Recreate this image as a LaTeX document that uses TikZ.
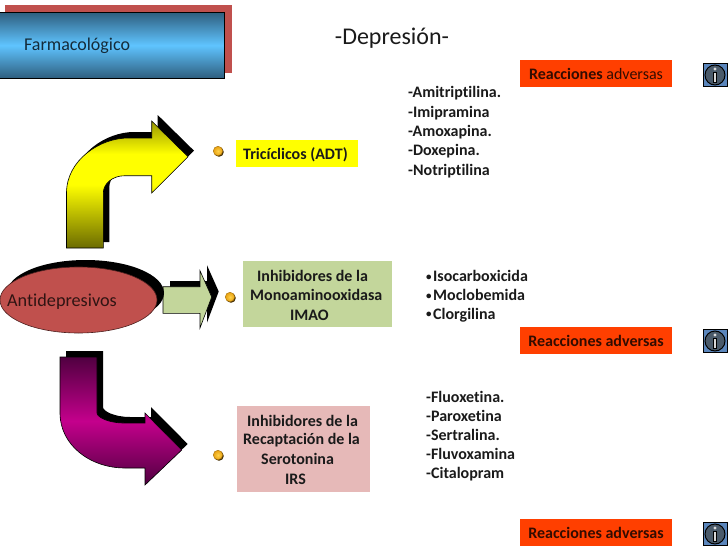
\documentclass[tikz,border=0pt]{standalone}
\usepackage{fontspec}
\setmainfont[Ligatures=NoCommon]{Carlito}
\usetikzlibrary{shapes.geometric}
\definecolor{redshadow}{HTML}{C0504D}
\definecolor{skyb}{HTML}{5FC4FF}
\definecolor{skyd}{HTML}{2F5F7F}
\definecolor{yel}{HTML}{FFFF00}
\definecolor{yeld}{HTML}{6B6B00}
\definecolor{mag}{HTML}{C4008C}
\definecolor{magd}{HTML}{500040}
\definecolor{grn}{HTML}{C3D69B}
\definecolor{pinkb}{HTML}{E6B9B8}
\definecolor{orng}{HTML}{FF3F00}
\definecolor{txt}{HTML}{1A1A1A}
\definecolor{infob}{HTML}{5B86BC}
\definecolor{infoc}{HTML}{4A5A6A}
\definecolor{balli}{HTML}{FFD24A}
\definecolor{ballo}{HTML}{E8A010}
\pgfdeclareverticalshading{yshade}{100bp}{color(0bp)=(yeld); color(25bp)=(yeld); color(50bp)=(yel); color(62bp)=(yel); color(75bp)=(yeld!70!yel); color(100bp)=(yeld!70!yel)}
\newcommand{\bul}{\raisebox{1.5pt}{\fontsize{11}{11}\selectfont•}\hspace{1.5pt}}
\tikzset{
  lab/.style={anchor=west,yshift=-1pt,font=\fontsize{16}{19.5}\selectfont\bfseries,text=txt,inner sep=0pt},
  red tag/.style={fill=orng,minimum width=152pt,minimum height=27pt,inner sep=0pt,text=black!80!orng,font=\fontsize{16}{18}\selectfont},
  dot/.style={circle,minimum size=9.5pt,inner sep=0pt,inner color=balli,outer color=ballo,draw=ballo!70!black,line width=.4pt},
  info/.style={draw=black,fill=infob,line width=.7pt,minimum width=24pt,minimum height=23pt,inner sep=0pt,
    path picture={\draw[line width=1pt,fill=infoc] (path picture bounding box.center) circle (10pt);
    \draw[black,line width=3.4pt] ([yshift=-7.5pt]path picture bounding box.center) -- ([yshift=3pt]path picture bounding box.center);
    \draw[white!85!black,line width=2pt] ([yshift=-7pt]path picture bounding box.center) -- ([yshift=2.5pt]path picture bounding box.center);
    \fill[white!85!black] ([yshift=6pt]path picture bounding box.center) circle (1.7pt);}},
  shp/.style={draw=black,line width=.6pt,line join=miter}
}
\newcommand{\yarrow}{(66.5,248) -- (66.5,193) .. controls (66.5,160) and (100,138) .. (128,138) -- (151.7,138) -- (151.7,121) -- (188,156.7) -- (151.7,193) -- (151.7,175.7) -- (125,175.7) .. controls (112,175.7) and (103.3,184) .. (103.3,193) -- (103.3,248) -- cycle}
\newcommand{\garrow}{(163,286.7) -- (200,286.7) -- (200,270.7) -- (211.7,297) -- (200,328) -- (200,313.3) -- (163,313.3) -- cycle}
\newcommand{\marrow}{(60,357) -- (97,357) -- (97,413) .. controls (97,417) and (108,423) .. (124,423) -- (145,423) -- (145,413) -- (181.7,450) -- (145,485) -- (145,468) -- (125,468) .. controls (90,468) and (60,445) .. (60,413) -- cycle}
\begin{document}
\begin{tikzpicture}[x=1pt,y=-1pt]
\useasboundingbox (0,0) rectangle (728,546);
% title box
\fill[redshadow] (5,5) rectangle (232,73);
\draw[black,line width=.7pt,top color=skyd,bottom color=skyd,middle color=skyb] (-2,12.5) rectangle (224,78);
\node[anchor=west,inner sep=0pt,text=skyd!45!black,font=\fontsize{18}{20}\selectfont] (farm) at (24,45.5) {Farmacológico};
\node[inner sep=0pt,text=txt,font=\fontsize{24}{25}\selectfont] (title) at (392,38.5) {-Depresión-};
% yellow arrow
\begin{scope}[shift={(6,-6)}] \fill[black] \yarrow; \end{scope}
\draw[shp,shading=yshade] \yarrow;
% green arrow
\begin{scope}[shift={(7,-5.5)}] \fill[black] \garrow; \end{scope}
\draw[shp,fill=grn] \garrow;
% ellipse
\fill[black] (85.5,293) ellipse (78.5 and 33);
\node[ellipse,draw=black!60!redshadow,fill=redshadow,line width=.6pt,minimum width=157pt,minimum height=66pt,inner sep=0pt] (anti) at (78.5,300) {};
\node[anchor=west,inner sep=0pt,text=black!75!redshadow,font=\fontsize{18.2}{20}\selectfont] (antit) at (7,301.5) {Antidepresivos};
% magenta arrow
\begin{scope}[shift={(6,-6)}] \fill[black] \marrow; \end{scope}
\draw[shp,top color=magd,bottom color=magd,middle color=mag] \marrow;
% bullets
\fill[black!70!ballo] (219,152) circle (4.8pt);
\fill[black!70!ballo] (231,298) circle (4.8pt);
\fill[black!70!ballo] (219,456) circle (4.8pt);
\node[dot] (b1) at (218,151) {};
\node[dot] (b2) at (230,297) {};
\node[dot] (b3) at (218,455) {};
% category boxes
\fill[yel] (236,140) rectangle (358,167);
\node[lab] (adt) at (243,153.5) {Tricíclicos (ADT)};
\fill[grn] (243,261) rectangle (392,327);
\node[lab] (g1) at (257,275) {Inhibidores de la};
\node[lab] (g2) at (250,294) {Monoaminooxidasa};
\node[lab] (g3) at (290,314) {IMAO};
\fill[pinkb] (237,406) rectangle (370,492);
\node[lab] (p1) at (247,420) {Inhibidores de la};
\node[lab] (p2) at (243,439) {Recaptación de la};
\node[lab] (p3) at (261,458) {Serotonina};
\node[lab] (p4) at (285,478) {IRS};
% red tags
\node[red tag] (r1) at (596,73.5) {\textbf{Reacciones} adversas};
\node[red tag] (r2) at (596,340.5) {\textbf{Reacciones adversas}};
\node[red tag] (r3) at (596,532.5) {\textbf{Reacciones adversas}};
% info
\node[info] (i1) at (715,75) {};
\node[info] (i2) at (715,341) {};
\node[info] (i3) at (715,534) {};
% lists
\node[lab] (a1) at (408,92) {-Amitriptilina.};
\node[lab] (a2) at (408,112) {-Imipramina};
\node[lab] (a3) at (408,131) {-Amoxapina.};
\node[lab] (a4) at (408,150) {-Doxepina.};
\node[lab] (a5) at (408,170) {-Notriptilina};
\node[lab] (m1) at (426,275) {\bul Isocarboxicida};
\node[lab] (m2) at (426,294) {\bul Moclobemida};
\node[lab] (m3) at (426,314) {\bul Clorgilina};
\node[lab] (s1) at (426,396) {-Fluoxetina.};
\node[lab] (s2) at (426,415) {-Paroxetina};
\node[lab] (s3) at (426,434) {-Sertralina.};
\node[lab] (s4) at (426,453) {-Fluvoxamina};
\node[lab] (s5) at (426,473) {-Citalopram};
\end{tikzpicture}
\end{document}
